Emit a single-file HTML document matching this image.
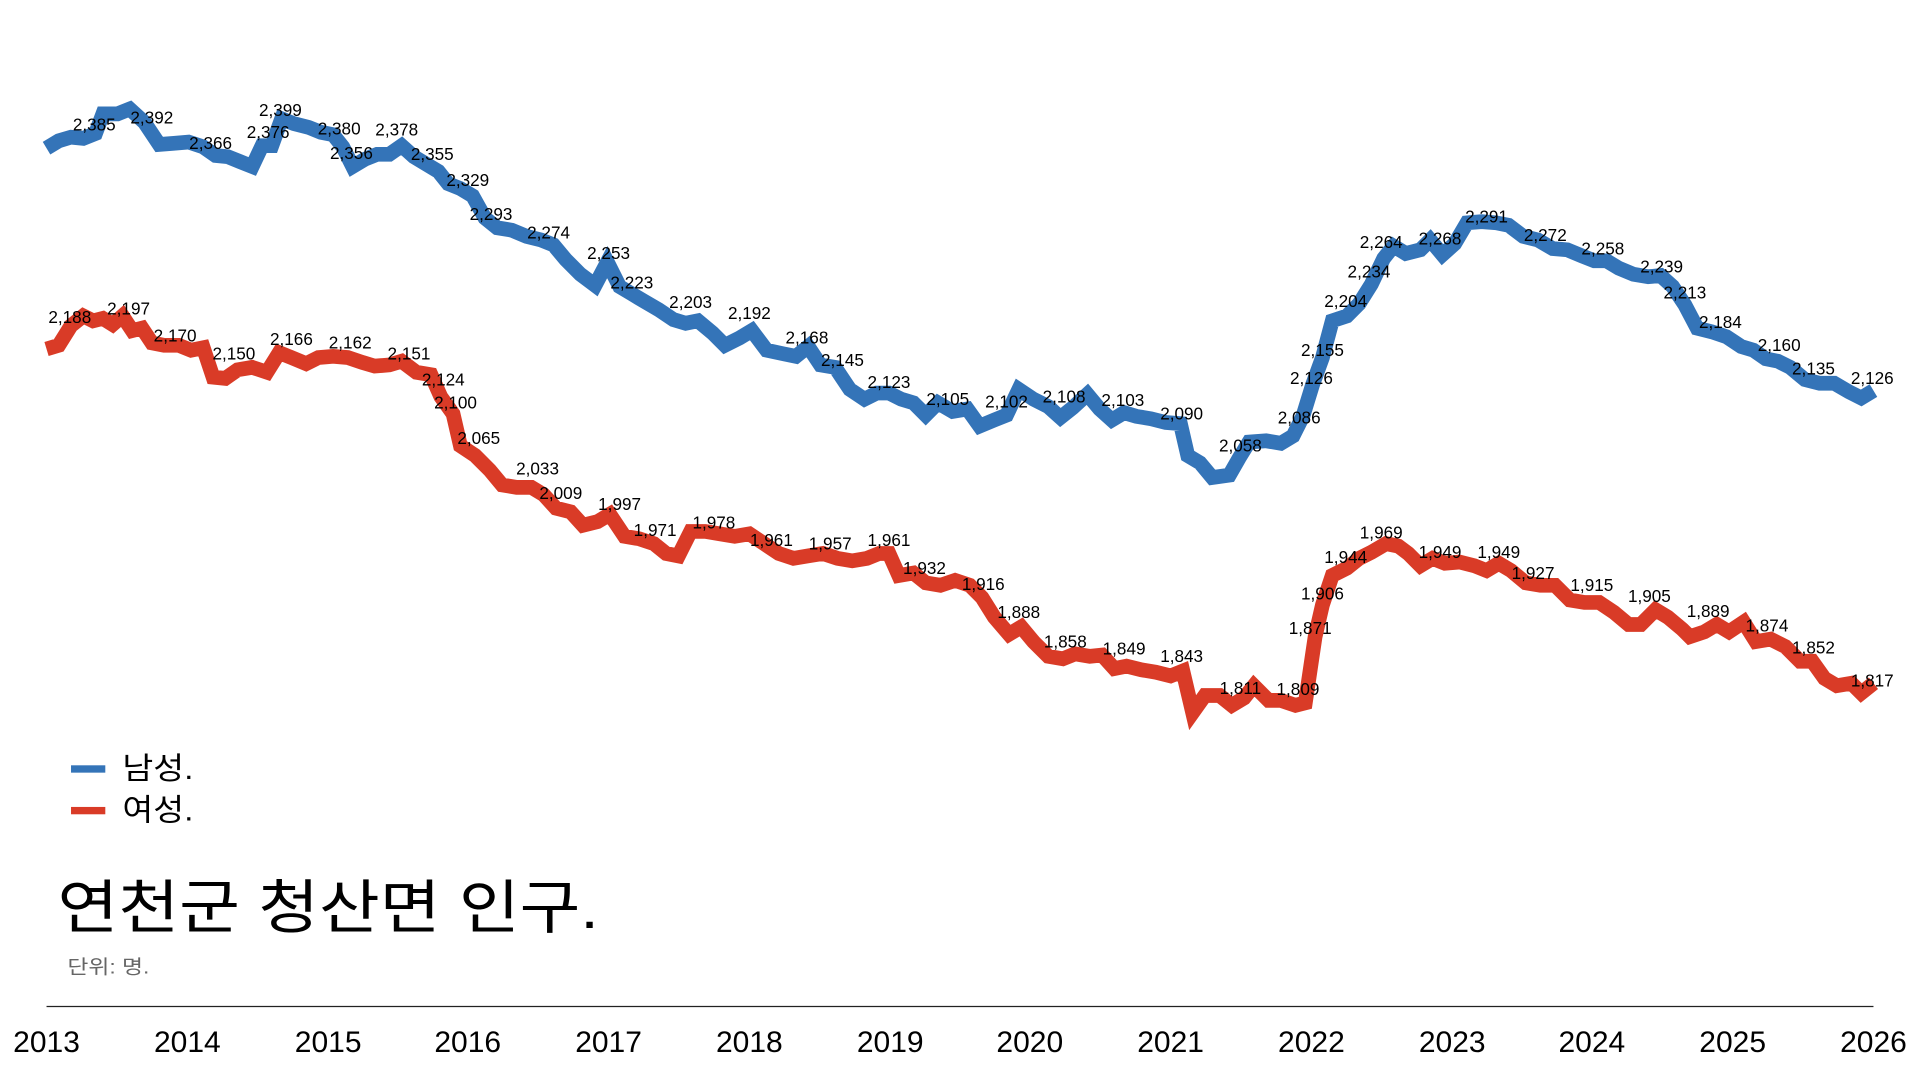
<!DOCTYPE html>
<html><head><meta charset="utf-8"><style>
html,body{margin:0;padding:0;background:#fff;width:1920px;height:1080px;overflow:hidden}
svg{display:block}
text{font-family:"Liberation Sans","Noto Sans CJK KR",sans-serif}
.l{font-size:14px;fill:#000;text-anchor:middle;dominant-baseline:middle}
.y{font-size:24.5px;fill:#000;text-anchor:middle}
</style></head><body>
<svg width="1920" height="1080" viewBox="0 0 1568 882" preserveAspectRatio="none" xmlns="http://www.w3.org/2000/svg">
<polyline fill="none" stroke="#3474b8" stroke-width="12" stroke-linejoin="miter" points="38,121 48,115 58,112 68,113 78,109 84,93 96,93 106,89 118,100 130,118 142,117 154,116 166,120 176,127 186,128 196,132 206,136 214,119 222,119 230,97 240,101 252,104 262,108 272,110 280,120 288,136 298,130 308,126 318,126 328,119 338,128 348,134 358,140 366,150 376,154 386,160 396,178 406,186 418,188 430,193 442,196 452,200 462,212 474,224 486,233 496,214 506,234 516,240 526,246 538,253 550,261 560,264 570,262 582,272 592,282 604,276 614,270 626,286 640,289 650,291 660,283 670,298 682,300 694,318 706,326 716,321 726,321 736,326 746,329 756,339 766,329 778,336 790,334 800,348 812,343 822,339 832,318 844,326 856,332 866,341 876,333 888,322 898,334 908,343 918,337 928,340 940,342 952,345 964,346 970,372 980,378 990,390 1004,388 1012,374 1020,361 1034,360 1046,362 1056,356 1064,340 1072,314 1080,292 1088,262 1100,258 1110,248 1120,232 1130,211 1138,201 1148,207 1160,204 1168,196 1178,208 1188,199 1198,182 1210,181 1222,182 1232,184 1244,193 1256,196 1268,203 1280,204 1292,209 1302,213 1312,213 1322,219 1334,224 1346,226 1356,225 1366,234 1376,249 1386,268 1398,271 1410,275 1422,283 1432,286 1442,293 1452,295 1462,300 1474,310 1486,313 1498,313 1510,320 1520,325 1530,319"/>
<polyline fill="none" stroke="#d93b27" stroke-width="12" stroke-linejoin="miter" points="38,285 48,282 58,266 68,258 76,262 84,260 92,265 100,258 108,270 116,268 124,280 134,282 146,282 156,286 166,284 174,308 184,309 194,302 206,300 218,304 228,288 238,292 250,297 260,292 272,291 284,292 296,296 306,299 318,298 328,295 340,304 352,306 360,324 370,338 376,364 388,372 400,384 410,396 422,398 434,398 444,404 454,415 466,418 476,429 488,426 498,420 510,438 522,440 534,444 544,452 554,454 564,434 576,434 588,436 600,438 612,436 624,444 636,452 648,456 660,454 672,452 684,456 696,458 708,456 718,452 726,452 734,470 746,468 756,476 768,478 780,474 792,478 802,488 812,504 824,518 834,512 844,524 856,536 868,538 878,534 890,536 900,535 910,546 920,544 932,547 944,549 956,552 966,548 974,582 984,568 996,568 1006,576 1016,570 1024,560 1036,572 1046,572 1058,576 1066,574 1074,520 1080,494 1088,470 1100,464 1110,456 1120,451 1132,444 1142,446 1150,452 1160,462 1170,456 1180,460 1192,459 1204,462 1214,466 1224,460 1234,466 1246,476 1258,478 1270,478 1282,490 1294,492 1306,492 1318,500 1330,510 1340,510 1352,498 1362,504 1374,514 1380,520 1392,516 1402,510 1412,516 1424,508 1434,524 1446,522 1458,528 1470,540 1480,540 1490,554 1500,560 1512,558 1520,566 1530,558"/>
<g class="lbls">
<text class="l" x="77" y="103">2,385</text><text class="l" x="124" y="97">2,392</text><text class="l" x="172" y="118">2,366</text><text class="l" x="219" y="109">2,376</text><text class="l" x="229" y="91">2,399</text><text class="l" x="277" y="106">2,380</text><text class="l" x="287" y="126">2,356</text><text class="l" x="324" y="107">2,378</text><text class="l" x="353" y="127">2,355</text><text class="l" x="382" y="148">2,329</text><text class="l" x="401" y="176">2,293</text><text class="l" x="448" y="191">2,274</text><text class="l" x="497" y="208">2,253</text><text class="l" x="516" y="232">2,223</text><text class="l" x="564" y="248">2,203</text><text class="l" x="612" y="257">2,192</text><text class="l" x="659" y="277">2,168</text><text class="l" x="688" y="295">2,145</text><text class="l" x="726" y="313">2,123</text><text class="l" x="774" y="327">2,105</text><text class="l" x="822" y="329">2,102</text><text class="l" x="869" y="325">2,108</text><text class="l" x="917" y="328">2,103</text><text class="l" x="965" y="339">2,090</text><text class="l" x="1013" y="365">2,058</text><text class="l" x="1061" y="342">2,086</text><text class="l" x="1071" y="310">2,126</text><text class="l" x="1080" y="287">2,155</text><text class="l" x="1099" y="247">2,204</text><text class="l" x="1118" y="223">2,234</text><text class="l" x="1128" y="199">2,264</text><text class="l" x="1176" y="196">2,268</text><text class="l" x="1214" y="178">2,291</text><text class="l" x="1262" y="193">2,272</text><text class="l" x="1309" y="204">2,258</text><text class="l" x="1357" y="219">2,239</text><text class="l" x="1376" y="240">2,213</text><text class="l" x="1405" y="264">2,184</text><text class="l" x="1453" y="283">2,160</text><text class="l" x="1481" y="302">2,135</text><text class="l" x="1529" y="310">2,126</text>
<text class="l" x="57" y="260">2,188</text><text class="l" x="105" y="253">2,197</text><text class="l" x="143" y="275">2,170</text><text class="l" x="191" y="290">2,150</text><text class="l" x="238" y="278">2,166</text><text class="l" x="286" y="281">2,162</text><text class="l" x="334" y="290">2,151</text><text class="l" x="362" y="311">2,124</text><text class="l" x="372" y="330">2,100</text><text class="l" x="391" y="359">2,065</text><text class="l" x="439" y="384">2,033</text><text class="l" x="458" y="404">2,009</text><text class="l" x="506" y="413">1,997</text><text class="l" x="535" y="434">1,971</text><text class="l" x="583" y="428">1,978</text><text class="l" x="630" y="442">1,961</text><text class="l" x="678" y="445">1,957</text><text class="l" x="726" y="442">1,961</text><text class="l" x="755" y="465">1,932</text><text class="l" x="803" y="478">1,916</text><text class="l" x="832" y="501">1,888</text><text class="l" x="870" y="525">1,858</text><text class="l" x="918" y="531">1,849</text><text class="l" x="965" y="537">1,843</text><text class="l" x="1013" y="563">1,811</text><text class="l" x="1060" y="564">1,809</text><text class="l" x="1070" y="514">1,871</text><text class="l" x="1080" y="486">1,906</text><text class="l" x="1099" y="456">1,944</text><text class="l" x="1128" y="436">1,969</text><text class="l" x="1176" y="452">1,949</text><text class="l" x="1224" y="452">1,949</text><text class="l" x="1252" y="469">1,927</text><text class="l" x="1300" y="479">1,915</text><text class="l" x="1347" y="488">1,905</text><text class="l" x="1395" y="500">1,889</text><text class="l" x="1443" y="512">1,874</text><text class="l" x="1481" y="530">1,852</text><text class="l" x="1529" y="557">1,817</text>
</g>
<rect x="58" y="625" width="28" height="6" fill="#3474b8"/>
<text x="100" y="636" font-size="25" fill="#000" textLength="58" lengthAdjust="spacingAndGlyphs">남성.</text>
<rect x="58" y="659" width="28" height="6" fill="#d93b27"/>
<text x="100" y="670" font-size="25" fill="#000" textLength="58" lengthAdjust="spacingAndGlyphs">여성.</text>
<text x="47" y="758" font-size="48" fill="#000" textLength="442" lengthAdjust="spacingAndGlyphs">연천군 청산면 인구.</text>
<text x="55" y="795" font-size="16" fill="#666" textLength="67" lengthAdjust="spacingAndGlyphs">단위: 명.</text>
<line x1="38" y1="822" x2="1530" y2="822" stroke="#222" stroke-width="1"/>
<g>
<text class="y" x="38" y="859">2013</text><text class="y" x="153" y="859">2014</text><text class="y" x="268" y="859">2015</text><text class="y" x="382" y="859">2016</text><text class="y" x="497" y="859">2017</text><text class="y" x="612" y="859">2018</text><text class="y" x="727" y="859">2019</text><text class="y" x="841" y="859">2020</text><text class="y" x="956" y="859">2021</text><text class="y" x="1071" y="859">2022</text><text class="y" x="1186" y="859">2023</text><text class="y" x="1300" y="859">2024</text><text class="y" x="1415" y="859">2025</text><text class="y" x="1530" y="859">2026</text>
</g>
</svg>
</body></html>
